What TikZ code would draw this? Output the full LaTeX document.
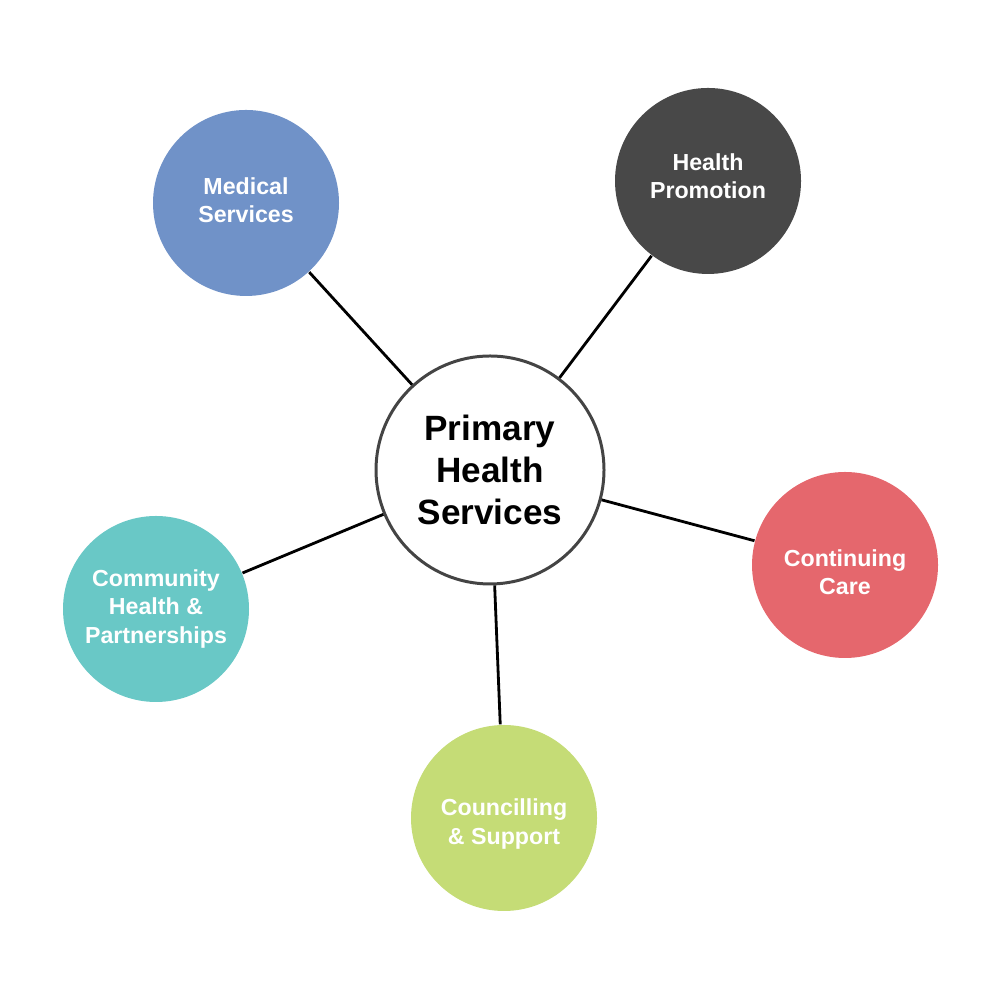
\documentclass[tikz,border=0pt]{standalone}
\usepackage{fontspec}
\setmainfont{Liberation Sans}
\usepackage{tikz}

\definecolor{medblue}{HTML}{7092C8}
\definecolor{promogray}{HTML}{484848}
\definecolor{carered}{HTML}{E5676D}
\definecolor{commteal}{HTML}{69C8C6}
\definecolor{supgreen}{HTML}{C5DC76}
\definecolor{rimgray}{HTML}{444444}

\begin{document}
\begin{tikzpicture}
            \useasboundingbox (0,0) rectangle (10,10);
            \tikzset{
                hub/.style={circle, draw=rimgray, line width=0.85pt, fill=white, minimum size=2.28cm, inner sep=0pt, align=center, font=\fontsize{10}{12}\selectfont\bfseries},
                spoke/.style={circle, minimum size=1.86cm, inner sep=0pt},
                tag/.style={align=center, text=white, inner sep=0pt, font=\fontsize{6.6}{8}\selectfont\bfseries},
                link/.style={line width=0.8pt}
            }

            \node[hub] (phs) at (4.90,5.30) {Primary\\Health\\Services};

            \node[spoke, fill=medblue, label={[tag, yshift=0.3mm]center:Medical\\Services}] (med) at (2.46,7.97) {};
            \node[spoke, fill=promogray, label={[tag, yshift=0.5mm]center:Health\\Promotion}] (promo) at (7.08,8.19) {};
            \node[spoke, fill=carered, label={[tag, yshift=-0.7mm]center:Continuing\\Care}] (care) at (8.45,4.35) {};
            \node[spoke, fill=commteal, label={[tag]center:Community\\Health \&\\Partnerships}] (comm) at (1.56,3.91) {};
            \node[spoke, fill=supgreen, label={[tag, yshift=-0.6mm]center:Councilling\\\& Support}] (supp) at (5.04,1.82) {};

            \draw[link] (phs) -- (med);
            \draw[link] (phs) -- (promo);
            \draw[link] (phs) -- (care);
            \draw[link] (phs) -- (comm);
            \draw[link] (phs) -- (supp);
        \end{tikzpicture}
\end{document}
